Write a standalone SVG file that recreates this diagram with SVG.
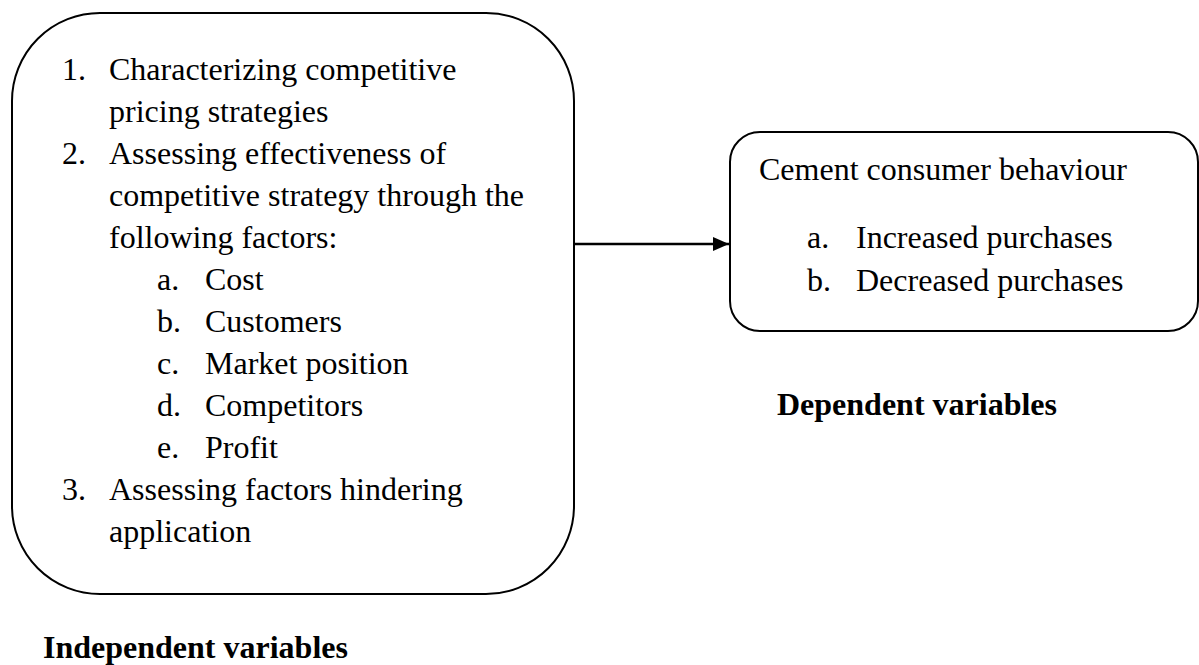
<svg xmlns="http://www.w3.org/2000/svg" width="1199" height="665" viewBox="0 0 1199 665">
<defs>
<style>
.box{fill:#fff;stroke:#000;stroke-width:2}
.t{font-family:"Liberation Serif","Times New Roman",serif;font-size:32px;fill:#000}
.b{font-family:"Liberation Serif","Times New Roman",serif;font-size:32px;font-weight:bold;fill:#000}
.c{stroke:#000;stroke-width:2.5;fill:none}
</style>
<marker id="ah" markerWidth="16" markerHeight="14" refX="16" refY="7" orient="auto" markerUnits="userSpaceOnUse">
<path d="M0,0 L16,7 L0,14 Z" fill="#000"/>
</marker>
</defs>
<g id="independent">
<rect class="box" x="12" y="13" width="562" height="581" rx="88" ry="88"/>
<text class="t" x="62" y="80">1.</text><text class="t" x="109" y="80">Characterizing competitive</text>
<text class="t" x="109" y="122">pricing strategies</text>
<text class="t" x="62" y="164">2.</text><text class="t" x="109" y="164">Assessing effectiveness of</text>
<text class="t" x="109" y="206">competitive strategy through the</text>
<text class="t" x="109" y="248">following factors:</text>
<text class="t" x="157" y="290">a.</text><text class="t" x="205" y="290">Cost</text>
<text class="t" x="157" y="332">b.</text><text class="t" x="205" y="332">Customers</text>
<text class="t" x="157" y="374">c.</text><text class="t" x="205" y="374">Market position</text>
<text class="t" x="157" y="416">d.</text><text class="t" x="205" y="416">Competitors</text>
<text class="t" x="157" y="458">e.</text><text class="t" x="205" y="458">Profit</text>
<text class="t" x="62" y="500">3.</text><text class="t" x="109" y="500">Assessing factors hindering</text>
<text class="t" x="109" y="542">application</text>
</g>
<g id="dependent">
<rect class="box" x="730" y="132" width="468" height="199" rx="30" ry="30"/>
<text class="t" x="759" y="180">Cement consumer behaviour</text>
<text class="t" x="807" y="248">a.</text><text class="t" x="856" y="248">Increased purchases</text>
<text class="t" x="807" y="291">b.</text><text class="t" x="856" y="291">Decreased purchases</text>
</g>
<g id="labels">
<text class="b" x="777" y="415">Dependent variables</text>
<text class="b" x="43" y="658">Independent variables</text>
</g>
<g id="connectors">
<line class="c" x1="574" y1="244" x2="729" y2="244" marker-end="url(#ah)"/>
</g>
</svg>
